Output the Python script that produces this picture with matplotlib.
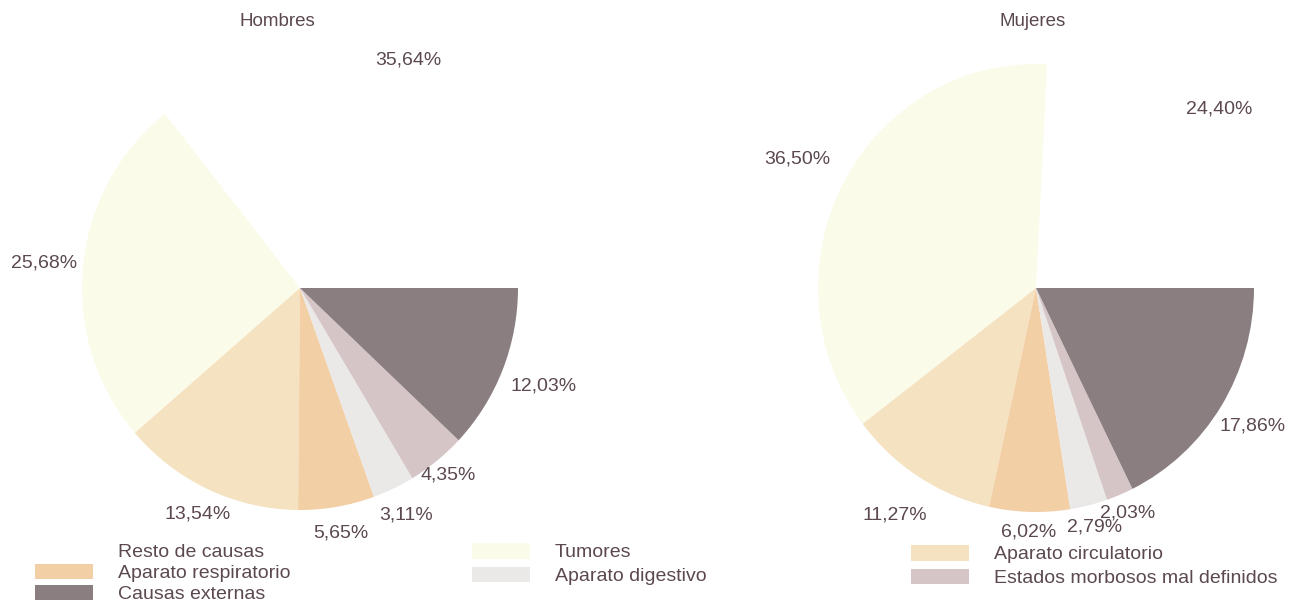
import numpy as np
import matplotlib.pyplot as plt
from matplotlib.patches import Patch

# categories in drawing order (counter-clockwise from 3 o'clock)
categorias = ['Resto de causas', 'Tumores', 'Aparato circulatorio',
              'Aparato respiratorio', 'Aparato digestivo',
              'Estados morbosos mal definidos', 'Causas externas']
colores = ['#ffffff', '#fbfbe9', '#f5e2c1', '#f2cfa5', '#ebe8e8', '#d5c5c7', '#8a7e81']

hombres = [35.64, 25.68, 13.54, 5.65, 3.11, 4.35, 12.03]
mujeres = [24.40, 36.50, 11.27, 6.02, 2.79, 2.03, 17.86]

# radial distance of each percentage label (layout only)
dist_h = [1.14, 1.18, 1.12, 1.12, 1.13, 1.08, 1.20]
dist_m = [1.16, 1.24, 1.20, 1.09, 1.10, 1.09, 1.17]

TXT = '#5b4850'
FONT = ['Liberation Sans', 'DejaVu Sans']
plt.rcParams['font.family'] = FONT

W, H = 1297, 601
fig = plt.figure(figsize=(W / 100, H / 100), dpi=100)
fig.patch.set_facecolor('white')


def draw_pie(cx, cy, rx, ry, vals, dist, title, tx):
    ax = fig.add_axes([(cx - rx) / W, (H - cy - ry) / H, 2 * rx / W, 2 * ry / H])
    wedges, _ = ax.pie(vals, colors=colores, startangle=0, counterclock=True,
                       radius=1, wedgeprops=dict(linewidth=0))
    for w, v, d in zip(wedges, vals, dist):
        a = np.deg2rad((w.theta1 + w.theta2) / 2)
        ax.text(d * np.cos(a), d * np.sin(a), f'{v:.2f}'.replace('.', ',') + '%',
                ha='center', va='center', fontsize=14, color=TXT)
    ax.set_xlim(-1, 1)
    ax.set_ylim(-1, 1)
    ax.set_aspect('auto')
    ax.axis('off')
    fig.text(tx / W, 1 - 22 / H, title, ha='center', va='center',
             fontsize=13.5, color=TXT)


draw_pie(300, 288, 218, 222, hombres, dist_h, 'Hombres', 277)
draw_pie(1036, 288, 218, 224, mujeres, dist_m, 'Mujeres', 1033)


def leyenda(idx, x, y, sp):
    handles = [Patch(facecolor=colores[i], edgecolor='none') for i in idx]
    names = [categorias[i] for i in idx]
    lg = fig.legend(handles, names, loc='upper left',
                    bbox_to_anchor=(x / W, 1 - y / H), frameon=False,
                    fontsize=14, handlelength=3.0, handleheight=0.85,
                    handletextpad=1.25, labelspacing=sp, borderpad=0,
                    borderaxespad=0)
    for t in lg.get_texts():
        t.set_color(TXT)
    return lg


leyenda([0, 3, 6], 35, 543, 0.12)
leyenda([1, 4], 472, 543, 0.28)
leyenda([2, 5], 911, 545, 0.28)

fig.savefig('out.png', dpi=100)
